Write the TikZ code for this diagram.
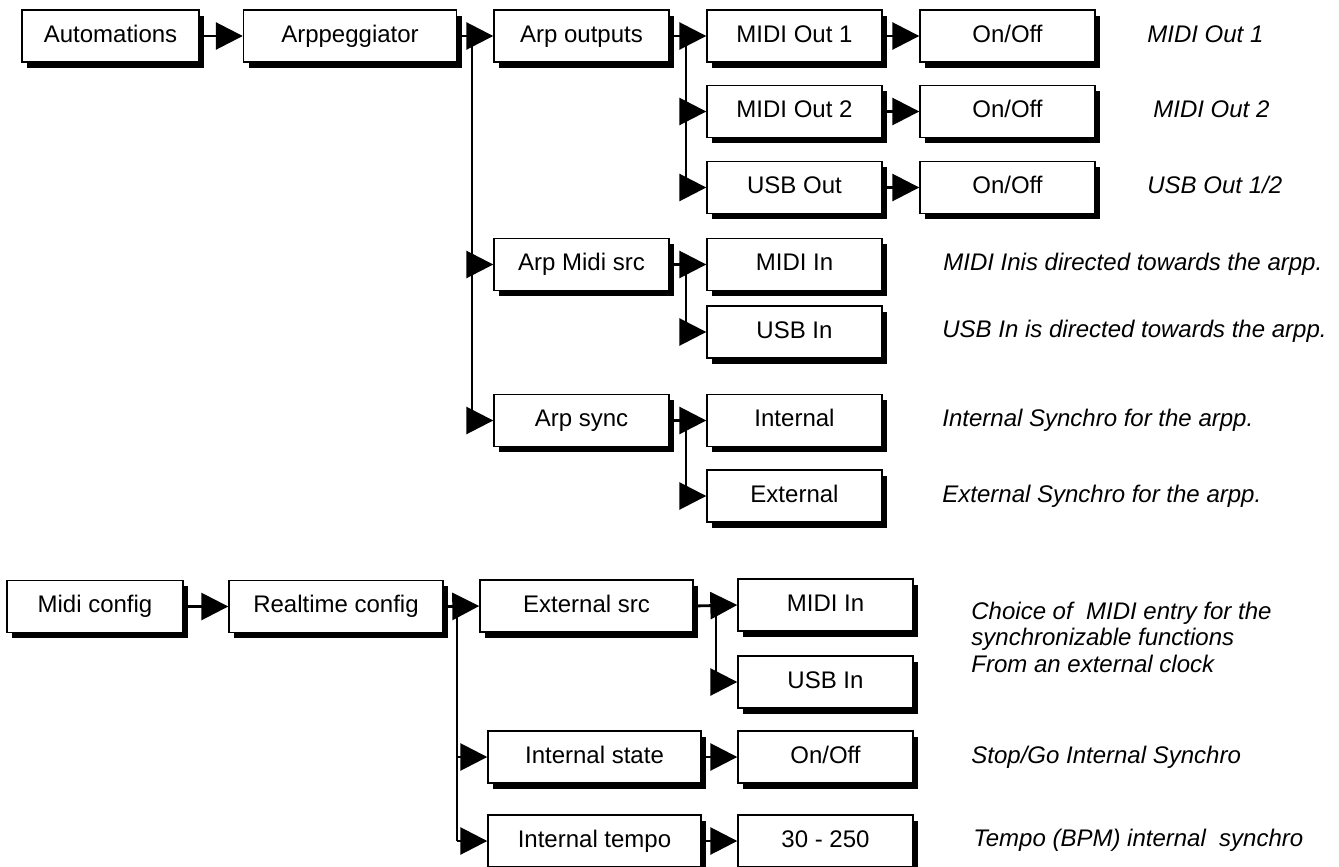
\documentclass[tikz,border=0pt]{standalone}
\usepackage{fontspec}
\setmainfont{Liberation Sans}
\usetikzlibrary{arrows.meta,shadows}
\tikzset{
  box/.style={draw, line width=0.7pt, fill=white, minimum height=26pt, inner sep=0pt,
    text height=8.6pt, text depth=2.6pt,
    font=\fontsize{12}{14}\selectfont,
    drop shadow={shadow xshift=2.6pt, shadow yshift=-2.8pt, fill=black, opacity=1}},
  nw/.style={box, minimum width=87.5pt},
  ww/.style={box, minimum width=106.5pt},
  note/.style={anchor=west, inner sep=0pt, text height=8.6pt, text depth=2.6pt,
    font=\fontsize{12}{14}\selectfont\itshape},
  mnote/.style={anchor=west, inner sep=0pt, align=left,
    font=\fontsize{12}{13.25}\selectfont\itshape},
  arr/.style={-{Triangle[length=13.5pt,width=13.5pt]}, line width=1.4pt},
  vline/.style={line width=1pt},
}
\begin{document}
\begin{tikzpicture}[x=0.5pt,y=-0.5pt]
\useasboundingbox (0,0) rectangle (1339,867);
% top part
\node[box, minimum width=88.5pt] (auto) at (110.5,36) {Automations};
\node[ww] (arp) at (350,36) {Arppeggiator};
\node[nw] (ao) at (581.5,36) {Arp outputs};
\node[nw] (mo1) at (794.5,36) {MIDI Out 1};
\node[nw] (oo1) at (1007.5,36) {On/Off};
\node[nw] (mo2) at (794.5,111.5) {MIDI Out 2};
\node[nw] (oo2) at (1007.5,111.5) {On/Off};
\node[nw] (uo) at (794.5,187.5) {USB Out};
\node[nw] (oo3) at (1007.5,187.5) {On/Off};
\node[nw] (ams) at (581.5,264.5) {Arp Midi src};
\node[nw] (mi) at (794.5,264.5) {MIDI In};
\node[nw] (ui) at (794.5,332) {USB In};
\node[nw] (as) at (581.5,420.5) {Arp sync};
\node[nw] (int) at (794.5,420.5) {Internal};
\node[nw] (ext) at (794.5,496) {External};

\node[note] (t1) at (1147,36) {MIDI Out 1};
\node[note] (t2) at (1153,111.5) {MIDI Out 2};
\node[note] (t3) at (1147,187.5) {USB Out 1/2};
\node[note] (t4) at (943,264.5) {MIDI Inis directed towards the arpp.};
\node[note] (t5) at (942,331) {USB In is directed towards the arpp.};
\node[note] (t6) at (942,420.5) {Internal Synchro for the arpp.};
\node[note] (t7) at (942,496) {External Synchro for the arpp.};

\coordinate (v1) at (472,36);
\coordinate (v2) at (686,36);
\coordinate (v3) at (686,264.5);
\coordinate (v4) at (686,420.5);

\draw[arr] (auto.east) -- (arp.west);
\draw[arr] (arp.east) -- (ao.west);
\draw[vline] (v1) -- (v1 |- as.west);
\draw[arr] (v1 |- ams.west) -- (ams.west);
\draw[arr] (v1 |- as.west) -- (as.west);

\draw[arr] (ao.east) -- (mo1.west);
\draw[vline] (v2) -- (v2 |- uo.west);
\draw[arr] (v2 |- mo2.west) -- (mo2.west);
\draw[arr] (v2 |- uo.west) -- (uo.west);
\draw[arr] (mo1.east) -- (oo1.west);
\draw[arr] (mo2.east) -- (oo2.west);
\draw[arr] (uo.east) -- (oo3.west);

\draw[arr] (ams.east) -- (mi.west);
\draw[vline] (v3) -- (v3 |- ui.west);
\draw[arr] (v3 |- ui.west) -- (ui.west);

\draw[arr] (as.east) -- (int.west);
\draw[vline] (v4) -- (v4 |- ext.west);
\draw[arr] (v4 |- ext.west) -- (ext.west);

% bottom part
\node[box, minimum width=88pt] (mc) at (95,606.5) {Midi config};
\node[box, minimum width=107pt] (rc) at (336,606.5) {Realtime config};
\node[ww] (es) at (586.5,606) {External src};
\node[nw] (bmi) at (825.5,605) {MIDI In};
\node[nw] (bui) at (825.5,682) {USB In};
\node[ww] (is) at (594.5,757) {Internal state};
\node[nw] (bon) at (825.5,757) {On/Off};
\node[ww] (it) at (594.5,841) {Internal tempo};
\node[nw] (bt) at (825.5,841) {30 - 250};

\node[mnote] (t8) at (971,637) {Choice of\ \ MIDI entry for the\\synchronizable functions\\From an external clock};
\node[note] (t9) at (971,757) {Stop/Go Internal Synchro};
\node[note] (t10) at (973,840) {Tempo (BPM) internal\ \ synchro};

\coordinate (v5) at (457,606);
\coordinate (v6) at (716,606);

\draw[arr] (mc.east) -- (rc.west);
\draw[arr] (rc.east) -- (es.west);
\draw[vline] (v5) -- (v5 |- it.west);
\draw[arr] (v5 |- is.west) -- (is.west);
\draw[arr] (v5 |- it.west) -- (it.west);

\draw[arr] (es.east) -- (bmi.west);
\draw[vline] (v6) -- (v6 |- bui.west);
\draw[arr] (v6 |- bui.west) -- (bui.west);
\draw[arr] (is.east) -- (bon.west);
\draw[arr] (it.east) -- (bt.west);
\end{tikzpicture}
\end{document}
